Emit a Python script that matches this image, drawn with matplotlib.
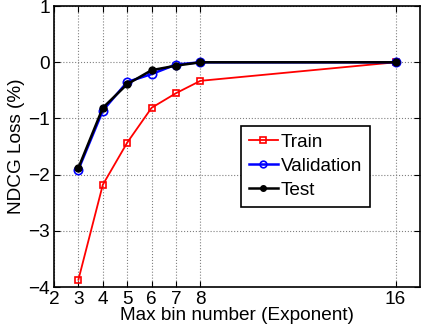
import matplotlib
matplotlib.use("Agg")
from matplotlib import pyplot as plt

plt.rcParams['font.family'] = ['Liberation Sans', 'DejaVu Sans']

# datos
bins = [3, 4, 5, 6, 7, 8, 16]
train = [-3.87, -2.18, -1.43, -0.81, -0.55, -0.33, 0.0]
valid = [-1.91, -0.86, -0.35, -0.21, -0.04, 0.0, 0.0]
test = [-1.88, -0.81, -0.39, -0.14, -0.06, 0.0, 0.0]

xticks = [2, 3, 4, 5, 6, 7, 8, 16]
yticks = [-4, -3, -2, -1, 0, 1]

fs = 13.7

fig = plt.figure(figsize=(4.27, 3.34), dpi=100)
ax = fig.add_axes([0.1265, 0.1407, 0.857, 0.841])

ax.plot(bins, train, color="red", marker="s", ms=5, mfc="none", mew=1.2, lw=1.3, label="Train")
ax.plot(bins, valid, color="blue", marker="o", ms=6, mfc="none", mew=1.2, lw=1.8, label="Validation")
ax.plot(bins, test, color="black", marker="o", ms=5, lw=1.8, label="Test")

ax.set_xlim(2, 17)
ax.set_ylim(-4, 1)
ax.set_xticks(xticks)
ax.set_yticks(yticks)
ax.tick_params(direction="in", top=True, right=True, labelsize=fs, length=4, pad=3)
ax.grid(True, ls=":", color="gray", lw=0.8)
for s in ax.spines.values():
    s.set_linewidth(1.2)

ax.set_xlabel("Max bin number (Exponent)", fontsize=fs, labelpad=-1)
ax.set_ylabel("NDCG Loss (%)", fontsize=fs, labelpad=2)

leg = ax.legend(loc="upper left", bbox_to_anchor=(0.511, 0.573), fontsize=fs, fancybox=False,
                edgecolor="black", framealpha=1, handlelength=1.55, handletextpad=0.15,
                borderpad=0.4, labelspacing=0.35, borderaxespad=0, markerscale=0.8)
leg.get_frame().set_linewidth(1.2)

fig.savefig("out.png", dpi=100)
